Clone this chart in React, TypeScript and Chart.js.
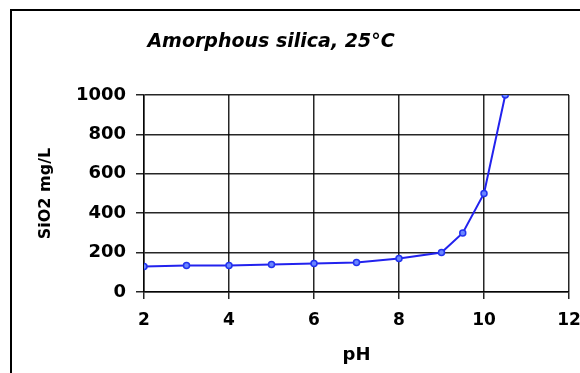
import React, { useEffect, useRef } from "react";
import { Chart, registerables } from "chart.js";

Chart.register(...registerables);

const TITLE = "Amorphous silica, 25°C";
const X_TITLE = "pH";
const Y_TITLE = "SiO2 mg/L";
const phValues = [2, 3, 4, 5, 6, 7, 8, 9, 9.5, 10, 10.5];
const silicaValues = [130, 135, 135, 140, 145, 150, 170, 200, 300, 500, 1000];

const FONT = "'DejaVu Sans', sans-serif";

const titlePlugin = {
  id: "customTitle",
  afterDraw(chart: any) {
    const ctx = chart.ctx;
    ctx.save();
    ctx.font = `italic bold 19px ${FONT}`;
    ctx.fillStyle = "#000";
    ctx.textAlign = "center";
    ctx.textBaseline = "middle";
    ctx.fillText(TITLE, 271, 42);
    ctx.restore();
  },
};

export default function App() {
  const ref = useRef<HTMLCanvasElement>(null);

  useEffect(() => {
    const canvas = ref.current;
    if (!canvas) return;
    const gridColor = "rgba(0,0,0,0.85)";
    const chart = new Chart(canvas, {
      type: "line",
      data: {
        datasets: [
          {
            data: phValues.map((x, i) => ({ x, y: silicaValues[i] })),
            borderColor: "#2222ee",
            borderWidth: 2,
            pointRadius: 3,
            pointBorderWidth: 1.5,
            pointBackgroundColor: "#6a86ff",
            pointBorderColor: "#2233ee",
            tension: 0,
            fill: false,
          },
        ],
      },
      plugins: [titlePlugin],
      options: {
        animation: false,
        responsive: false,
        maintainAspectRatio: false,
        layout: { padding: { left: 30, right: 11, top: 95, bottom: 0 } },
        plugins: {
          legend: { display: false },
          title: { display: false },
          tooltip: { enabled: false },
        },
        scales: {
          x: {
            type: "linear",
            min: 2,
            max: 12,
            afterFit(scale: any) {
              scale.height = 81;
              scale.paddingRight = 0;
              scale.paddingLeft = 0;
            },
            ticks: {
              stepSize: 2,
              color: "#000",
              padding: 11,
              font: { family: FONT, size: 17, weight: "bold" },
              callback: (v: any) => String(v),
            },
            grid: {
              color: gridColor,
              lineWidth: 1.5,
              tickLength: 7,
              drawTicks: true,
            },
            border: { color: gridColor, width: 1.5 },
            title: {
              display: true,
              text: X_TITLE,
              color: "#000",
              font: { family: FONT, size: 18, weight: "bold" },
              padding: { top: 0, bottom: 7 },
            },
          },
          y: {
            type: "linear",
            min: 0,
            max: 1000,
            afterFit(scale: any) {
              scale.width = 114;
            },
            ticks: {
              stepSize: 200,
              color: "#000",
              padding: 10,
              font: { family: FONT, size: 18, weight: "bold" },
              callback: (v: any) => String(v),
            },
            grid: {
              color: gridColor,
              lineWidth: 1.5,
              tickLength: 8,
            },
            border: { color: gridColor, width: 1.5 },
            title: {
              display: true,
              text: Y_TITLE,
              color: "#000",
              font: { family: FONT, size: 16, weight: "bold" },
              padding: { top: 6, bottom: 0 },
            },
          },
        },
      },
    });
    return () => chart.destroy();
  }, []);

  return (
    <div
      style={{
        position: "fixed",
        left: 0,
        top: 0,
        width: 580,
        height: 373,
        overflow: "hidden",
        background: "#fff",
      }}
    >
      <div
        style={{
          position: "absolute",
          left: 10,
          top: 9,
          width: 700,
          height: 500,
          border: "2px solid #000",
          boxSizing: "border-box",
        }}
      />
      <canvas
        ref={ref}
        width={580}
        height={373}
        style={{ position: "absolute", left: 0, top: 0, width: 580, height: 373 }}
      />
    </div>
  );
}
